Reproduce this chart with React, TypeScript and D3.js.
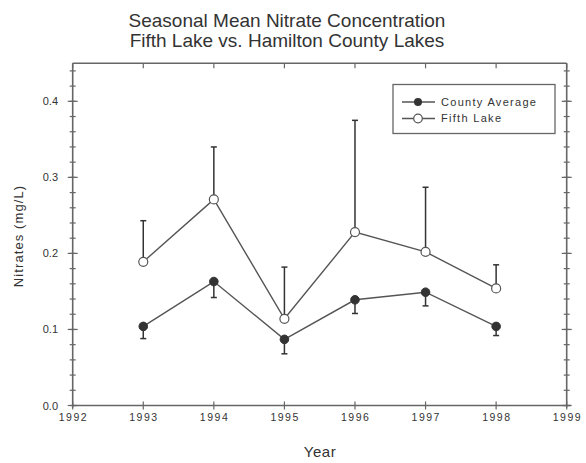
import React from "react";
import * as d3 from "d3";

const years = [1993, 1994, 1995, 1996, 1997, 1998];
const countyAvg = [0.104, 0.163, 0.087, 0.139, 0.149, 0.104];
const countyLower = [0.088, 0.142, 0.068, 0.121, 0.131, 0.092];
const fifthLake = [0.189, 0.271, 0.114, 0.228, 0.202, 0.154];
const fifthUpper = [0.243, 0.340, 0.182, 0.375, 0.287, 0.185];
const xTicks = [1992, 1993, 1994, 1995, 1996, 1997, 1998, 1999];
const yTicks = [0.0, 0.1, 0.2, 0.3, 0.4];
const yMinorTicks = d3.range(0, 23).map((i) => +(i * 0.02).toFixed(2));
const titleLines = ["Seasonal Mean Nitrate Concentration", "Fifth Lake vs. Hamilton County Lakes"];
const legendLabels = ["County Average", "Fifth Lake"];

export default function App() {
  const W = 586, H = 463;
  const x = d3.scaleLinear().domain([1992, 1999]).range([72.7, 566.7]);
  const y = d3.scaleLinear().domain([0, 0.45]).range([405.5, 63.3]);
  const line = d3.line<[number, number]>().x((d) => x(d[0])).y((d) => y(d[1]));
  const axisColor = "#666";
  const txt = "#333";
  const font = "Arial, 'Liberation Sans', Helvetica, sans-serif";
  const x0 = x(1992), x1 = x(1999), y0 = y(0), y1 = y(0.45);
  return (
    <svg width={W} height={H} style={{ position: "absolute", left: 0, top: 0, background: "#fff" }} fontFamily={font}>
      {titleLines.map((t, i) => (
        <text key={t} x={287} y={26.5 + i * 20.7} textAnchor="middle" fontSize={19} fill={txt}>{t}</text>
      ))}
      {/* frame */}
      <g stroke={axisColor} strokeWidth={1.6} fill="none">
        <line x1={x0} x2={x1 + 4} y1={y0} y2={y0} />
        <line x1={x0} x2={x1} y1={y1} y2={y1} />
        <line x1={x0} x2={x0} y1={y1} y2={y0 + 2} />
        <line x1={x1} x2={x1} y1={y1} y2={y0 + 2} />
      </g>
      {/* y ticks */}
      <g stroke={axisColor} strokeWidth={1.2}>
        {yMinorTicks.map((v) => (
          <g key={v}>
            <line x1={x0 - 3} x2={x0 + 3} y1={y(v)} y2={y(v)} />
            <line x1={x1 - 3} x2={x1 + 3} y1={y(v)} y2={y(v)} />
          </g>
        ))}
        {yTicks.map((v) => (
          <g key={"M" + v}>
            <line x1={x0 - 5} x2={x0 + 5} y1={y(v)} y2={y(v)} />
            <line x1={x1 - 5} x2={x1 + 5} y1={y(v)} y2={y(v)} />
          </g>
        ))}
        {xTicks.map((v) => (
          <g key={"x" + v}>
            <line x1={x(v)} x2={x(v)} y1={y0 - 4} y2={y0 + 4} />
            <line x1={x(v)} x2={x(v)} y1={y1} y2={y1 + 5} />
          </g>
        ))}
      </g>
      {yTicks.map((v) => (
        <text key={"yl" + v} x={58} y={y(v) + 4} textAnchor="end" fontSize={11} fill={txt}>{v.toFixed(1)}</text>
      ))}
      {xTicks.map((v) => (
        <text key={"xl" + v} x={x(v) + 0.7} y={421} textAnchor="middle" fontSize={10.5} letterSpacing={1.5} fill={txt}>{v}</text>
      ))}
      <text x={320} y={457} textAnchor="middle" fontSize={15} letterSpacing={0.5} fill={txt}>Year</text>
      <text transform={`translate(23,236) rotate(-90)`} textAnchor="middle" fontSize={13} letterSpacing={1.1} fill={txt}>Nitrates (mg/L)</text>
      {/* error bars */}
      <g stroke="#333" strokeWidth={1.5}>
        {years.map((yr, i) => (
          <g key={"eb" + yr}>
            <line x1={x(yr)} x2={x(yr)} y1={y(fifthLake[i])} y2={y(fifthUpper[i])} />
            <line x1={x(yr) - 3} x2={x(yr) + 3} y1={y(fifthUpper[i])} y2={y(fifthUpper[i])} />
            <line x1={x(yr)} x2={x(yr)} y1={y(countyAvg[i])} y2={y(countyLower[i])} />
            <line x1={x(yr) - 3} x2={x(yr) + 3} y1={y(countyLower[i])} y2={y(countyLower[i])} />
          </g>
        ))}
      </g>
      {/* lines */}
      <path d={line(years.map((yr, i) => [yr, fifthLake[i]]) as any) || ""} fill="none" stroke="#555" strokeWidth={1.4} />
      <path d={line(years.map((yr, i) => [yr, countyAvg[i]]) as any) || ""} fill="none" stroke="#555" strokeWidth={1.4} />
      {years.map((yr, i) => (
        <circle key={"c" + yr} cx={x(yr)} cy={y(countyAvg[i])} r={4.3} fill="#333" stroke="#333" strokeWidth={1} />
      ))}
      {years.map((yr, i) => (
        <circle key={"f" + yr} cx={x(yr)} cy={y(fifthLake[i])} r={4.5} fill="#fff" stroke="#555" strokeWidth={1.2} />
      ))}
      {/* legend */}
      <rect x={393} y={84.5} width={162} height={49} fill="#fff" stroke="#666" strokeWidth={1.3} />
      <g>
        <line x1={402} x2={435} y1={102} y2={102} stroke="#555" strokeWidth={1.4} />
        <circle cx={418} cy={102} r={4} fill="#333" />
        <text x={441} y={105.5} fontSize={11} letterSpacing={1.3} fill={txt}>{legendLabels[0]}</text>
        <line x1={402} x2={435} y1={118.5} y2={118.5} stroke="#555" strokeWidth={1.4} />
        <circle cx={418} cy={118.5} r={4.3} fill="#fff" stroke="#555" strokeWidth={1.2} />
        <text x={441} y={122} fontSize={11} letterSpacing={1.3} fill={txt}>{legendLabels[1]}</text>
      </g>
    </svg>
  );
}
